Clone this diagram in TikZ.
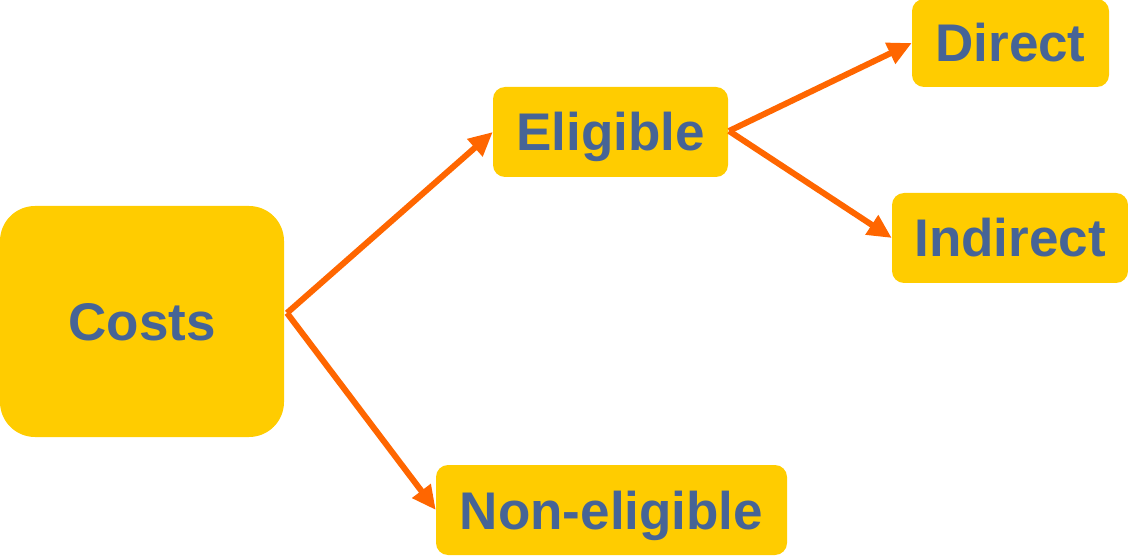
\documentclass[tikz,border=0pt]{standalone}
\usepackage{fontspec}
\setmainfont{Liberation Sans}
\usetikzlibrary{arrows.meta}
\definecolor{boxyellow}{HTML}{FFCC00}
\definecolor{txtblue}{HTML}{466496}
\definecolor{arrorange}{HTML}{FF6600}
\begin{document}
\begin{tikzpicture}[x=1pt,y=-1pt,
  box/.style={rectangle, fill=boxyellow, rounded corners=12pt, inner sep=0pt,
    text height=38pt, text depth=0pt,
    text=txtblue, font=\fontsize{53}{60}\selectfont\bfseries},
  link/.style={draw=arrorange, line width=6pt,
    -{Triangle[length=24pt,width=22pt]}}]
\useasboundingbox (0,0) rectangle (1128,556);
\node[box, rounded corners=35pt, minimum width=284pt, minimum height=231pt] (costs) at (142,321.5) {Costs};
\node[box, minimum width=235pt, minimum height=90pt] (elig) at (610.5,132) {Eligible};
\node[box, minimum width=197pt, minimum height=88pt] (direct) at (1010.5,43) {Direct};
\node[box, minimum width=236pt, minimum height=90pt] (indirect) at (1010,238) {Indirect};
\node[box, minimum width=351pt, minimum height=90pt] (nonelig) at (611.5,510) {Non-eligible};
\coordinate (cs) at (287,313);
\coordinate (es) at (729,131);
\draw[link] (cs) -- (elig.west);
\draw[link] (cs) -- (nonelig.west);
\draw[link] (es) -- (direct.west);
\draw[link] (es) -- (indirect.west);
\end{tikzpicture}
\end{document}
